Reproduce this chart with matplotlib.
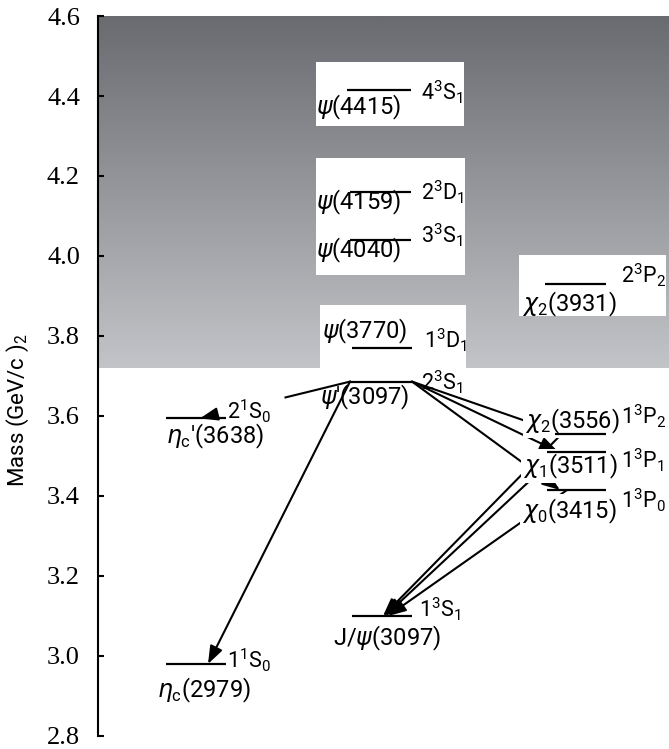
import numpy as np
import matplotlib.pyplot as plt
from matplotlib.colors import LinearSegmentedColormap

plt.rcParams['font.family'] = ['Roboto', 'DejaVu Sans']
plt.rcParams['mathtext.fontset'] = 'custom'
plt.rcParams['mathtext.rm'] = 'Roboto'
plt.rcParams['mathtext.it'] = 'DejaVu Sans:italic'
plt.rcParams['mathtext.bf'] = 'Roboto:bold'

# charmonium levels as drawn (GeV/c^2)
states = ['eta_c', 'eta_c2S', 'jpsi', 'psi2S', 'chi0', 'chi1', 'chi2',
          'psi3770', 'chi2_2P', 'psi4040', 'psi4159', 'psi4415']
masses = [2.98, 3.594, 3.10, 3.686, 3.415, 3.511, 3.556,
          3.770, 3.931, 4.040, 4.159, 4.415]
names = [r'$\eta_{\mathrm{c}}$(2979)', r"$\eta_{\mathrm{c}}$'(3638)", r'J/$\psi$(3097)',
         r"$\psi$'(3097)", r'$\chi_0$(3415)', r'$\chi_1$(3511)', r'$\chi_2$(3556)',
         r'$\psi$(3770)', r'$\chi_2$(3931)', r'$\psi$(4040)', r'$\psi$(4159)', r'$\psi$(4415)']
terms = ['1$^1$S$_0$', '2$^1$S$_0$', '1$^3$S$_1$', '2$^3$S$_1$', '1$^3$P$_0$', '1$^3$P$_1$',
         '1$^3$P$_2$', '1$^3$D$_1$', '2$^3$P$_2$', '3$^3$S$_1$', '2$^3$D$_1$', '4$^3$S$_1$']
threshold = 3.72  # open charm threshold, start of grey band

transitions = [('psi2S', 'eta_c2S'), ('psi2S', 'eta_c'), ('psi2S', 'chi2'),
               ('psi2S', 'chi1'), ('psi2S', 'chi0'),
               ('chi2', 'jpsi'), ('chi1', 'jpsi'), ('chi0', 'jpsi')]
mass = dict(zip(states, masses))

# ---- layout (x in pixel-like units, y given as pixel rows) ----
def m(py):
    return 4.6 - (py - 16) / 400.0

span = {'eta_c': (166, 226), 'eta_c2S': (166, 226), 'jpsi': (352, 412),
        'psi2S': (350, 412), 'chi0': (547, 606), 'chi1': (547, 606),
        'chi2': (555, 606), 'psi3770': (352, 412), 'chi2_2P': (545, 606),
        'psi4040': (350, 411), 'psi4159': (350, 411), 'psi4415': (347, 411)}
name_pos = {'eta_c': (157, 697), 'eta_c2S': (166, 443), 'jpsi': (333, 645),
            'psi2S': (320, 404), 'chi0': (522, 518), 'chi1': (523, 473),
            'chi2': (525, 428), 'psi3770': (322, 338), 'chi2_2P': (522, 311),
            'psi4040': (316, 257), 'psi4159': (316, 209), 'psi4415': (316, 114)}
term_pos = {'eta_c': (227, 668), 'eta_c2S': (227, 419), 'jpsi': (419, 617),
            'psi2S': (421, 390), 'chi0': (621, 508), 'chi1': (621, 468),
            'chi2': (621, 424), 'psi3770': (424, 348), 'chi2_2P': (621, 283),
            'psi4040': (421, 243), 'psi4159': (421, 200), 'psi4415': (421, 100)}
boxed = ['chi0', 'chi1', 'chi2']
arrow_x = [(350, 200), (350, 208), (412, 562), (412, 558), (412, 560),
           (562, 383), (561, 385), (567, 388)]
# hidden stretch of a transition line (fraction along it), where a label sits
arrow_gap = {0: (0.43, 0.90)}
white_boxes = [(316, 464, 4.325, 4.485), (316, 465, 3.9525, 4.245),
               (320, 466, threshold, 3.8775), (519, 666, 3.85, 4.0025)]

fig = plt.figure(figsize=(6.69, 7.49), dpi=100)
ax = fig.add_axes([98 / 669, 13 / 749, 1 - 98 / 669, 720 / 749])
ax.set_xlim(98, 669)
ax.set_ylim(2.8, 4.6)

# grey gradient above threshold
cmap = LinearSegmentedColormap.from_list('g', ['#c3c4c8', '#6a6b70'])
grad = np.linspace(0, 1, 256).reshape(-1, 1)
ax.imshow(grad, extent=[98, 669, threshold, 4.6], origin='lower', cmap=cmap,
          aspect='auto', zorder=0)
for x0, x1, y0, y1 in white_boxes:
    ax.fill_between([x0, x1], y0, y1, color='white', lw=0, zorder=1)

# transitions
aprops = dict(arrowstyle='-|>,head_length=0.6,head_width=0.22', mutation_scale=18,
              lw=1.5, color='black', shrinkA=0, shrinkB=0)
for i, ((a, b), (xa, xb)) in enumerate(zip(transitions, arrow_x)):
    ya, yb = mass[a], mass[b]
    if i in arrow_gap:
        t0, t1 = arrow_gap[i]
        ax.plot([xa, xa + t0 * (xb - xa)], [ya, ya + t0 * (yb - ya)],
                color='black', lw=1.5, zorder=2)
        xa, ya = xa + t1 * (xb - xa), ya + t1 * (yb - ya)
    ax.annotate('', xy=(xb, yb), xytext=(xa, ya), arrowprops=aprops, zorder=2)

# levels and labels
for s in states:
    x0, x1 = span[s]
    ax.plot([x0, x1], [mass[s], mass[s]], color='black', lw=1.6,
            solid_capstyle='butt', zorder=4)
    bb = dict(boxstyle='square,pad=0.1', fc='white', ec='none') if s in boxed else None
    nx, ny = name_pos[s]
    ax.text(nx, m(ny), names[states.index(s)], fontsize=17, ha='left',
            va='baseline', bbox=bb, zorder=3)
    tx, ty = term_pos[s]
    ax.text(tx, m(ty), terms[states.index(s)], fontsize=15.5, ha='left',
            va='baseline', zorder=3)

# axis styling
for sp in ['top', 'right', 'bottom']:
    ax.spines[sp].set_visible(False)
ax.spines['left'].set_linewidth(1.5)
ax.set_xticks([])
ax.set_yticks(np.arange(2.8, 4.61, 0.2))
ax.set_yticklabels(['%.1f' % v for v in np.arange(2.8, 4.61, 0.2)],
                   family='Liberation Serif', fontsize=19)
ax.tick_params(axis='y', direction='in', length=4, width=1.5, pad=13)
fig.text(18 / 669, 1 - 410 / 749, r'Mass (GeV/c )$_2$', rotation=90,
         ha='center', va='center', fontsize=16)

fig.savefig('out.png', dpi=100)
